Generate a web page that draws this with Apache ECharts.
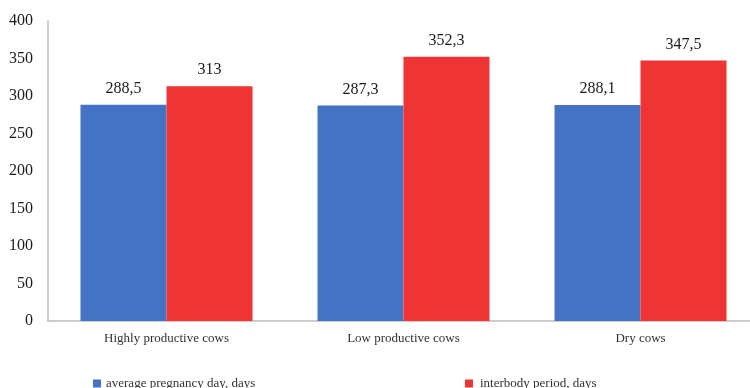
<!DOCTYPE html>
<html><head><meta charset="utf-8">
<script src="https://cdn.jsdelivr.net/npm/echarts@6/dist/echarts.min.js"></script>
<style>html,body{margin:0;padding:0;background:#fff;overflow:hidden}#c{width:759px;height:388px}</style>
</head><body><div id="c"></div>
<script>
var categories = ['Highly productive cows', 'Low productive cows', 'Dry cows'];
var pregnancyDays = [288.5, 287.3, 288.1];
var interbodyDays = [313, 352.3, 347.5];
var seriesNames = ['average pregnancy day, days', 'interbody period, days'];
var yTicks = [0, 50, 100, 150, 200, 250, 300, 350, 400];

var font = 'Liberation Serif, Times New Roman, serif';
var chart = echarts.init(document.getElementById('c'));
function fmt(p){ return String(p.value).replace('.', ','); }
chart.setOption({
  animation: false,
  grid: { left: 48, right: 0, top: 21, bottom: 67, containLabel: false },
  legend: [
    { data: [seriesNames[0]], left: 88, top: 372, itemWidth: 8, itemHeight: 8, icon: 'rect',
      textStyle: { fontFamily: font, fontSize: 13, color: '#333' } },
    { data: [seriesNames[1]], left: 460, top: 372, itemWidth: 8, itemHeight: 8, icon: 'rect',
      textStyle: { fontFamily: font, fontSize: 13, color: '#333', padding: [0,0,0,2] } }
  ],
  xAxis: {
    type: 'category', data: categories,
    axisLine: { lineStyle: { color: '#bdbdbd', width: 1.5 } },
    axisTick: { show: false },
    axisLabel: { fontFamily: font, fontSize: 13, color: '#333', margin: 11 }
  },
  yAxis: {
    type: 'value', min: 0, max: 400, interval: 50,
    axisLine: { show: true, lineStyle: { color: '#bdbdbd', width: 1.5 } },
    axisTick: { show: false },
    splitLine: { show: false },
    axisLabel: { fontFamily: font, fontSize: 16, color: '#1a1a1a', margin: 15,
      formatter: function(v){ return yTicks.indexOf(v) >= 0 ? String(v) : ''; } }
  },
  series: [
    { name: seriesNames[0], type: 'bar', data: pregnancyDays, barWidth: 86, barGap: '0%',
      itemStyle: { color: '#4472c4' },
      label: { show: true, position: 'top', distance: 8, formatter: fmt,
        fontFamily: font, fontSize: 16, color: '#1a1a1a' } },
    { name: seriesNames[1], type: 'bar', data: interbodyDays, barWidth: 86, barGap: '0%',
      itemStyle: { color: '#ee3533' },
      label: { show: true, position: 'top', distance: 8, formatter: fmt,
        fontFamily: font, fontSize: 16, color: '#1a1a1a' } }
  ]
});
</script></body></html>
